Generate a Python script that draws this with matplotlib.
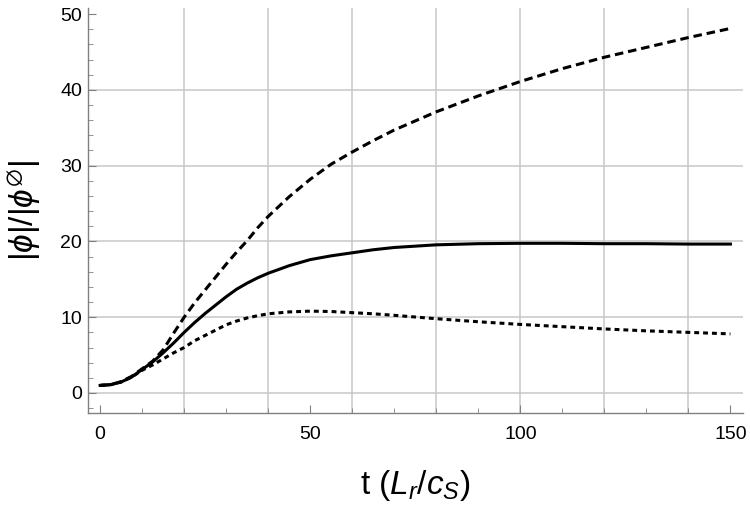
import numpy as np
import matplotlib
matplotlib.use('Agg')
from matplotlib import pyplot as plt
from matplotlib.ticker import MultipleLocator, FixedLocator

plt.rcParams['font.family'] = ['Liberation Sans', 'DejaVu Sans']
plt.rcParams['mathtext.fontset'] = 'custom'
plt.rcParams['mathtext.rm'] = 'Liberation Sans'
plt.rcParams['mathtext.it'] = 'Liberation Sans:italic'
plt.rcParams['mathtext.fallback'] = 'stixsans'

#%% data
t = [0, 2.5, 5, 7.5, 10, 12.5, 15, 17.5, 20, 22.5, 25, 27.5, 30, 32.5, 35, 37.5,
     40, 45, 50, 55, 60, 65, 70, 80, 90, 100, 110, 120, 130, 140, 150]

phi_solid = [1.0, 1.1, 1.45, 2.1, 3.1, 4.1, 5.3, 6.6, 8.0, 9.3, 10.5, 11.6, 12.7,
             13.7, 14.5, 15.2, 15.8, 16.8, 17.6, 18.1, 18.5, 18.9, 19.2, 19.55,
             19.7, 19.75, 19.75, 19.7, 19.7, 19.65, 19.65]

phi_dashed = [1.0, 1.1, 1.5, 2.2, 3.2, 4.2, 5.7, 7.9, 10.0, 11.9, 13.6, 15.3,
              17.0, 18.6, 20.1, 21.8, 23.3, 25.9, 28.2, 30.2, 31.8, 33.3, 34.7,
              37.1, 39.2, 41.1, 42.8, 44.3, 45.6, 46.9, 48.1]

phi_dotted = [1.0, 1.1, 1.45, 2.1, 3.0, 3.7, 4.5, 5.3, 6.0, 6.9, 7.6, 8.3, 9.0,
              9.5, 9.9, 10.2, 10.45, 10.7, 10.8, 10.75, 10.6, 10.45, 10.25, 9.8,
              9.4, 9.05, 8.75, 8.45, 8.2, 8.0, 7.8]

x_grid = [20, 40, 60, 80, 100, 120, 140]
y_grid = [0, 10, 20, 30, 40]

#%%
fig = plt.figure(figsize=(7.5, 5.09), dpi=100)
ax = fig.add_axes([0.1167, 0.1886, 0.874, 0.7957])

for xg in x_grid:
    ax.axvline(xg, color='#c8c8c8', lw=1.1, zorder=1)
for yg in y_grid:
    ax.axhline(yg, color='#c8c8c8', lw=1.1, zorder=1)

ax.plot(t, phi_dashed, color='black', lw=2.2, dashes=(2.8, 1.6), zorder=3)
ax.plot(t, phi_solid, color='black', lw=2.2, zorder=3, solid_joinstyle='round')
ax.plot(t, phi_dotted, color='black', lw=2.2, dashes=(1.6, 1.3), zorder=3)

ax.set_xlim(-3, 153)
ax.set_ylim(-2.64, 50.8)

ax.xaxis.set_major_locator(FixedLocator([0, 50, 100, 150]))
ax.xaxis.set_minor_locator(MultipleLocator(10))
ax.yaxis.set_major_locator(MultipleLocator(10))
ax.yaxis.set_minor_locator(MultipleLocator(2))

ax.spines['top'].set_visible(False)
ax.spines['right'].set_visible(False)
for s in ['left', 'bottom']:
    ax.spines[s].set_color('#808080')
    ax.spines[s].set_linewidth(1.0)

ax.tick_params(which='both', direction='in', color='#808080', labelsize=14,
               labelcolor='black')
ax.tick_params(which='major', length=6, width=0.8)
ax.tick_params(which='minor', length=3.5, width=0.6)
ax.tick_params(axis='x', which='major', pad=9)
ax.tick_params(axis='y', which='major', pad=4)

ax.set_xlabel(r't ($L_r/c_S$)', fontsize=24)
ax.xaxis.set_label_coords(0.5, -0.135)
ax.set_ylabel(r'$|\phi|/|\phi^{\varnothing}|$', fontsize=24)
ax.yaxis.set_label_coords(-0.068, 0.5)

plt.savefig('out.png', dpi=100)
